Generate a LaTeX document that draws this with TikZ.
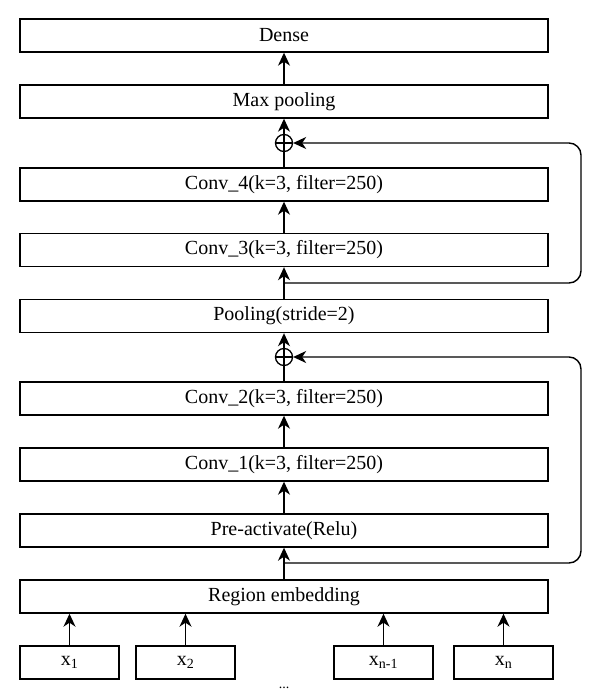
\documentclass[tikz,border=0pt]{standalone}
\usepackage{fontspec}
\setmainfont{Liberation Serif}
\usetikzlibrary{arrows.meta}
\begin{document}
\begin{tikzpicture}[x=1pt,y=-1pt,
  layer/.style={draw, line width=1.4pt, minimum width=528pt, minimum height=33pt, inner sep=0pt, font=\fontsize{20}{24}\selectfont},
  inbox/.style={draw, line width=1.4pt, minimum width=99pt, minimum height=33pt, inner sep=0pt, font=\fontsize{20}{24}\selectfont},
  plusc/.style={draw, circle, line width=1.3pt, minimum size=17pt, inner sep=0pt},
  tip/.style={-{Stealth[length=13pt,width=12pt,inset=4pt]}},
  arr/.style={line width=1.4pt, tip},
  ln/.style={line width=1.4pt},
  loop/.style={line width=1.4pt, rounded corners=12pt, tip}]
\useasboundingbox (0,0) rectangle (594,690);
\node[layer] (dense) at (284,35.5) {Dense};
\node[layer] (maxp) at (284,101.5) {Max pooling};
\node[plusc] (p1) at (284,143) {};
\draw[ln] (p1.north) -- (p1.south) (p1.west) -- (p1.east);
\node[layer] (c4) at (284,184.5) {Conv\_4(k=3, filter=250)};
\node[layer] (c3) at (284,250) {Conv\_3(k=3, filter=250)};
\node[layer] (pool) at (284,316) {Pooling(stride=2)};
\node[plusc] (p2) at (284,357) {};
\draw[ln] (p2.north) -- (p2.south) (p2.west) -- (p2.east);
\node[layer] (c2) at (284,398.5) {Conv\_2(k=3, filter=250)};
\node[layer] (c1) at (284,464.5) {Conv\_1(k=3, filter=250)};
\node[layer] (pre) at (284,530.5) {Pre-activate(Relu)};
\node[layer] (reg) at (284,596.5) {Region embedding};
\node[inbox] (x1) at (69.5,662.5) {x\textsubscript{1}};
\node[inbox] (x2) at (185.5,662.5) {x\textsubscript{2}};
\node[inbox] (xn1) at (383.5,662.5) {x\textsubscript{n-1}};
\node[inbox] (xn) at (503.5,662.5) {x\textsubscript{n}};
\node[font=\fontsize{14}{14}\selectfont, anchor=base, inner sep=0pt] (dots) at (284,688) {...};
\coordinate (j1) at (284,283);
\coordinate (j2) at (284,563);
\draw[arr] (maxp) -- (dense);
\draw[arr] (p1) -- (maxp);
\draw[ln] (c4) -- (p1);
\draw[arr] (c3) -- (c4);
\draw[arr] (pool) -- (c3);
\draw[arr] (p2) -- (pool);
\draw[ln] (c2) -- (p2);
\draw[arr] (c1) -- (c2);
\draw[arr] (pre) -- (c1);
\draw[arr] (reg) -- (pre);
\draw[arr] (x1) -- (x1 |- reg.south);
\draw[arr] (x2) -- (x2 |- reg.south);
\draw[arr] (xn1) -- (xn1 |- reg.south);
\draw[arr] (xn) -- (xn |- reg.south);
\draw[loop] (j1) -- (581,283) -- (581,143) -- (p1.east);
\draw[loop] (j2) -- (581,563) -- (581,357) -- (p2.east);
\end{tikzpicture}
\end{document}
